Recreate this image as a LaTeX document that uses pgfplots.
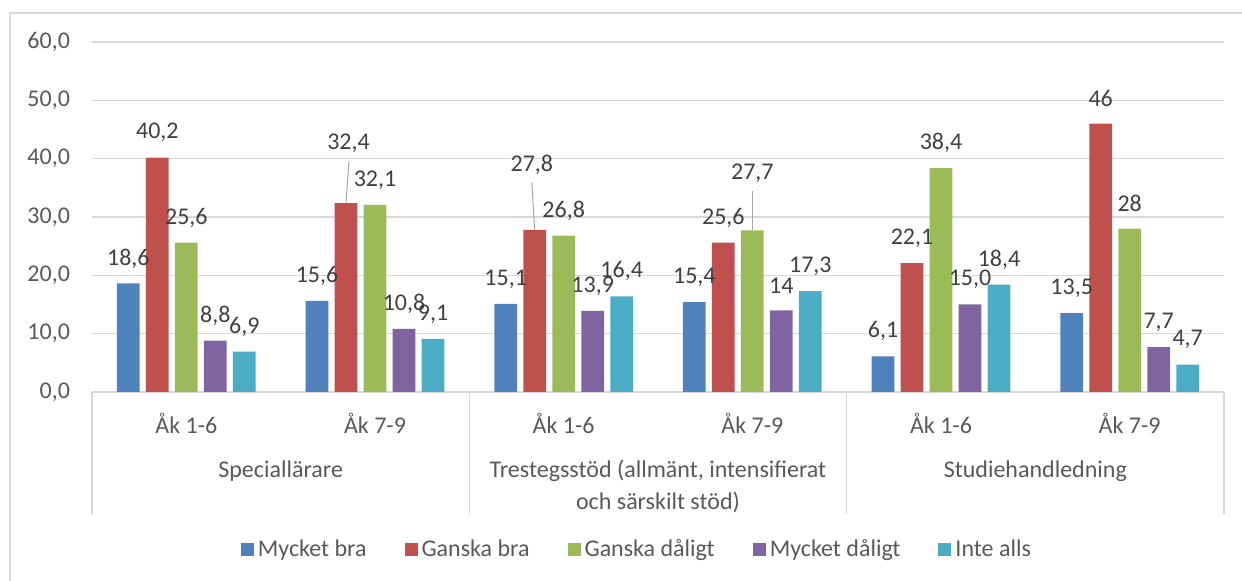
\documentclass[border=0pt]{standalone}
\usepackage{pgfplots}
\pgfplotsset{compat=1.18}
\usepackage{pgfplotstable}
\usepackage{fontspec}
\setmainfont{Carlito}
\definecolor{cBlue}{HTML}{4F81BD}
\definecolor{cRed}{HTML}{C0504D}
\definecolor{cGreen}{HTML}{9BBB59}
\definecolor{cPurple}{HTML}{8064A2}
\definecolor{cCyan}{HTML}{4BACC6}
\definecolor{gridc}{HTML}{D9D9D9}
\definecolor{txt}{HTML}{595959}
\definecolor{lbl}{HTML}{404040}
\definecolor{leader}{HTML}{A6A6A6}

\pgfplotstableread{
x y lab off xo
-0.3074 18.6 18,6 12.5 0
0.6926 15.6 15,6 12.5 0
1.6926 15.1 15,1 12.5 0
2.6926 15.4 15,4 12.5 0
3.6926 6.1 6,1 12.5 0
4.6926 13.5 13,5 12.5 0
}\tblA
\pgfplotstableread{
x y lab off xo
-0.1537 40.2 40,2 12.5 0
0.8463 32.4 32,4 30 1.25
1.8463 27.8 27,8 32.5 -1.4
2.8463 25.6 25,6 12.5 0
3.8463 22.1 22,1 12.5 0
4.8463 46 46 12.5 0
}\tblB
\pgfplotstableread{
x y lab off xo
0 25.6 25,6 12.5 0
1 32.1 32,1 12.5 0
2 26.8 26,8 12.5 0
3 27.7 27,7 28.5 0
4 38.4 38,4 12.5 0
5 28 28 12.5 0
}\tblC
\pgfplotstableread{
x y lab off xo
0.1537 8.8 8,8 12.5 0
1.1537 10.8 10,8 12.5 0
2.1537 13.9 13,9 12.5 0
3.1537 14 14 12.5 0
4.1537 15.0 15,0 12.5 0
5.1537 7.7 7,7 12.5 0
}\tblD
\pgfplotstableread{
x y lab off xo
0.3074 6.9 6,9 12.5 0
1.3074 9.1 9,1 12.5 0
2.3074 16.4 16,4 12.5 0
3.3074 17.3 17,3 12.5 0
4.3074 18.4 18,4 12.5 0
5.3074 4.7 4,7 12.5 0
}\tblE

\pgfplotsset{
  mybar/.style={
    draw=none, fill=#1,
    bar shift=0pt,
    point meta=explicit symbolic,
    nodes near coords,
    visualization depends on={\thisrow{off}\as\myoff},
    visualization depends on={\thisrow{xo}\as\myxo},
    every node near coord/.append style={anchor=center, xshift=\myxo pt, yshift=\myoff pt, text=lbl, font=\fontsize{12}{14}\selectfont, inner sep=0pt},
  },
}

\begin{document}
\begin{tikzpicture}[font=\fontsize{12}{14}\selectfont]
\useasboundingbox (0,0) rectangle (621pt,-290.5pt);
\draw[gridc, line width=0.7pt] (5pt,-291pt) -- (5pt,-6.5pt) -- (622pt,-6.5pt);
\begin{axis}[
  at={(46pt,-196pt)}, anchor=south west,
  scale only axis, width=566pt, height=175pt,
  xmin=-0.5, xmax=5.5, ymin=0, ymax=60,
  ybar, bar width=0.1205,
  axis line style={draw=none},
  major tick length=0pt,
  ymajorgrids, grid style={gridc, line width=0.75pt},
  ytick={0,10,20,30,40,50,60},
  yticklabels={{0,0},{10,0},{20,0},{30,0},{40,0},{50,0},{60,0}},
  yticklabel style={text=txt, anchor=east, xshift=-7.5pt},
  xtick={0,1,2,3,4,5},
  xticklabels={Åk 1-6, Åk 7-9, Åk 1-6, Åk 7-9, Åk 1-6, Åk 7-9},
  xticklabel style={text=txt, anchor=center, yshift=-15.5pt},
  clip=false,
  legend columns=5,
  legend style={at={(0.4823,-0.4514)}, anchor=center, draw=none, fill=none,
    text=txt, font=\fontsize{12}{14}\selectfont,
    /tikz/every even column/.append style={column sep=17pt},
    /tikz/every odd column/.append style={column sep=0pt}},
  legend image code/.code={\fill[#1] (0pt,-3.2pt) rectangle (6.5pt,3.3pt);},
]
\addplot[mybar=cBlue] table[x=x,y=y,meta=lab]{\tblA};
\addlegendentry{Mycket bra}
\addplot[mybar=cRed] table[x=x,y=y,meta=lab]{\tblB};
\addlegendentry{Ganska bra}
\addplot[mybar=cGreen] table[x=x,y=y,meta=lab]{\tblC};
\addlegendentry{Ganska dåligt}
\addplot[mybar=cPurple] table[x=x,y=y,meta=lab]{\tblD};
\addlegendentry{Mycket dåligt}
\addplot[mybar=cCyan] table[x=x,y=y,meta=lab]{\tblE};
\addlegendentry{Inte alls}
% leader lines
\addplot[sharp plot, forget plot, leader, line width=0.5pt, no marks] coordinates {(0.8463,32.4) (0.862,39.6)};
\addplot[sharp plot, forget plot, leader, line width=0.5pt, no marks] coordinates {(1.8463,27.8) (1.8313,35.9)};
\addplot[sharp plot, forget plot, leader, line width=0.5pt, no marks] coordinates {(3.0,27.7) (3.0,34.4)};
% category separators
\draw[gridc, line width=0.75pt] (axis cs:-0.5,0) -- ++(0pt,-61pt);
\draw[gridc, line width=0.75pt] (axis cs:1.5,0) -- ++(0pt,-61pt);
\draw[gridc, line width=0.75pt] (axis cs:3.5,0) -- ++(0pt,-61pt);
\draw[gridc, line width=0.75pt] (axis cs:5.5,0) -- ++(0pt,-61pt);
% group labels
\node[anchor=base, text=txt] at ([yshift=-43pt]axis cs:0.5,0) {Speciallärare};
\node[anchor=base, text=txt, font=\fontsize{12}{16}\selectfont] at ([yshift=-43pt]axis cs:2.5,0) {\begin{tabular}[t]{@{}c@{}}Trestegsstöd (allmänt, intensifierat\\och särskilt stöd)\end{tabular}};
\node[anchor=base, text=txt] at ([yshift=-43pt]axis cs:4.5,0) {Studiehandledning};
\end{axis}
\end{tikzpicture}
\end{document}
